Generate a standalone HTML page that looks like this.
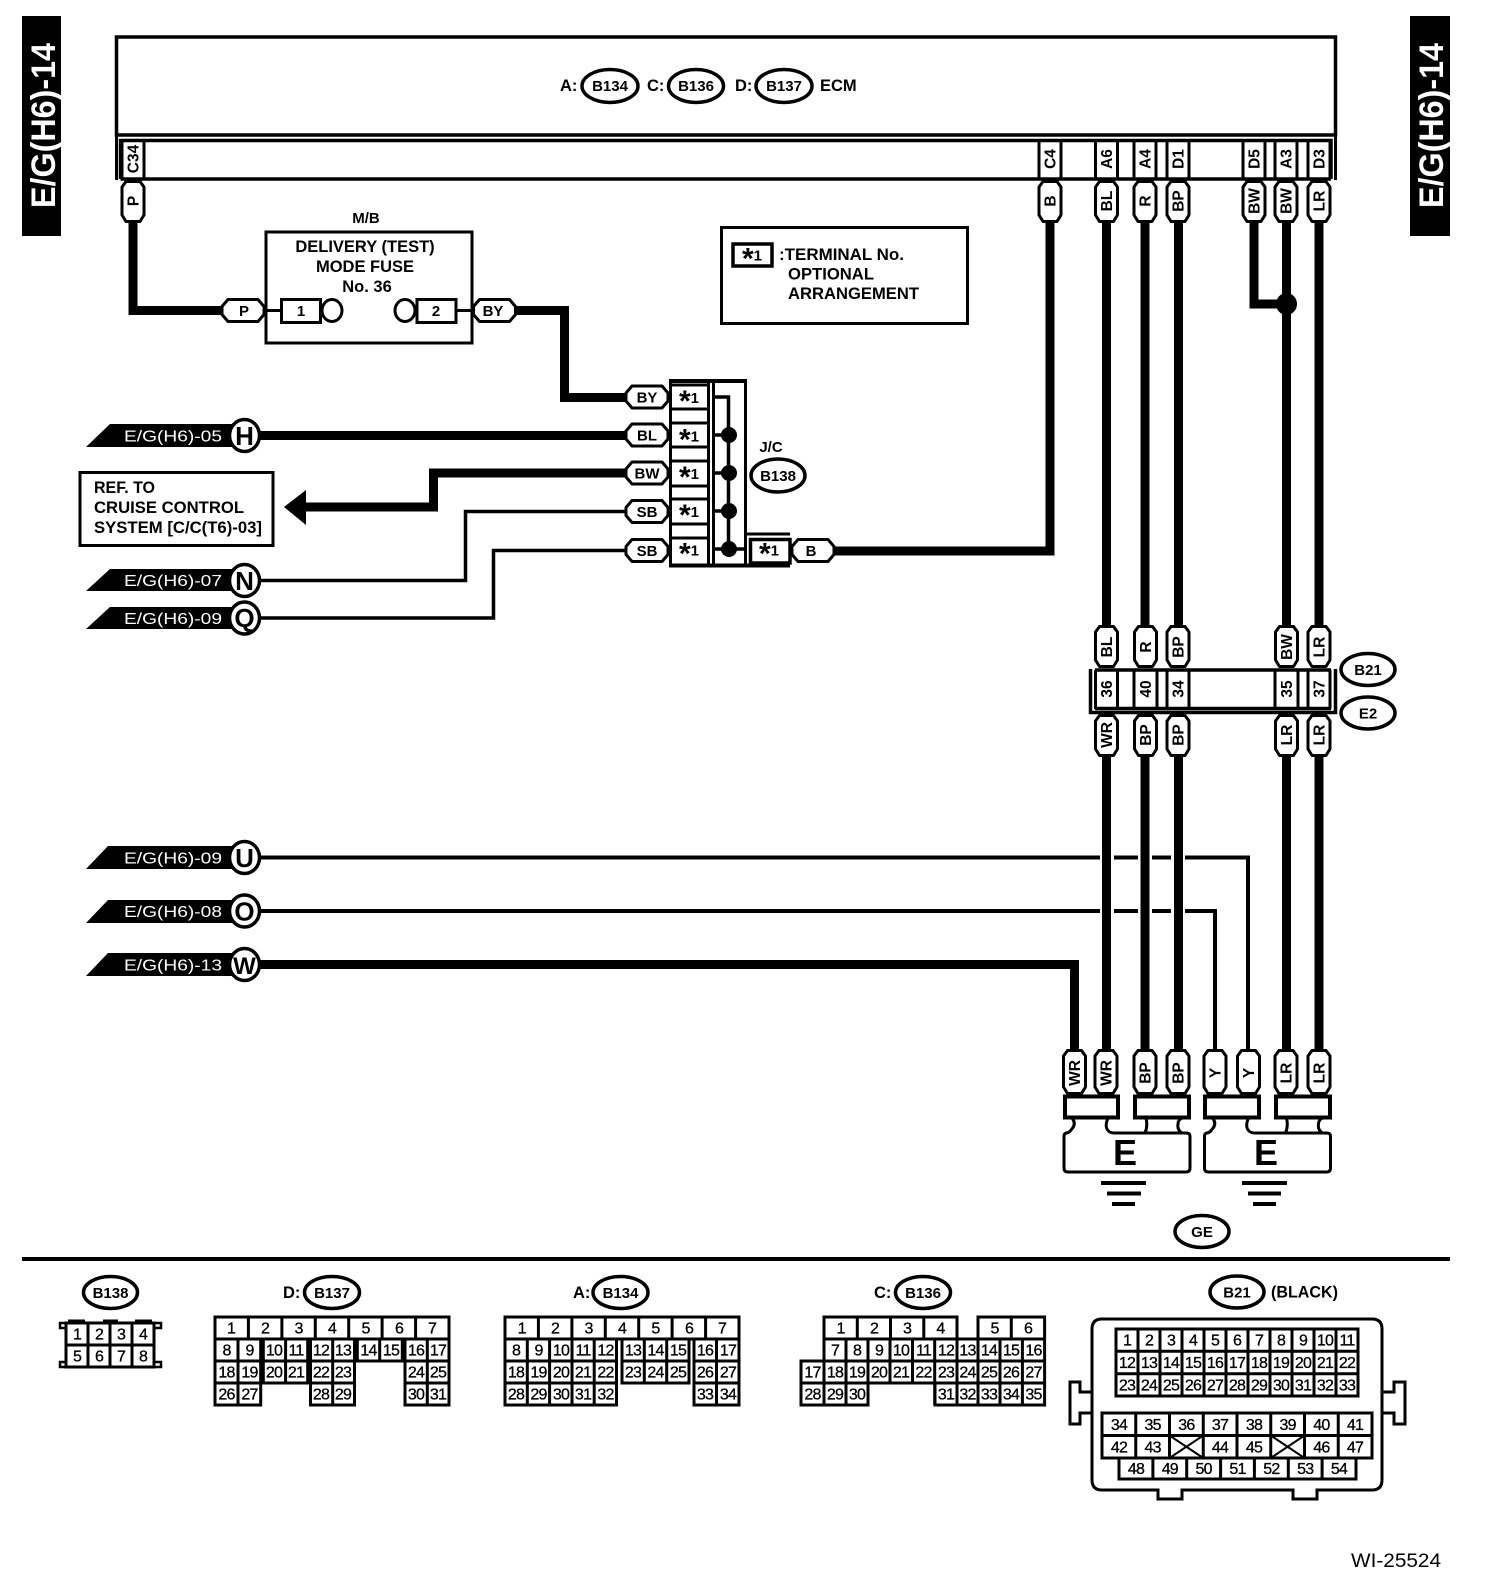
<!DOCTYPE html>
<html><head><meta charset="utf-8"><style>
html,body{margin:0;padding:0;background:#fff}
svg{display:block}
text{font-family:"Liberation Sans",sans-serif;fill:#000}
.b{font-weight:bold;font-size:16.5px}
.m{font-weight:bold;font-size:15px;text-anchor:middle}
.v{font-weight:bold;font-size:15.5px;text-anchor:middle}
.g text{font-size:16px;text-anchor:middle;letter-spacing:-.8px;stroke:#000;stroke-width:.3}
.w{fill:#fff;font-size:16px}
.l{font-weight:bold;font-size:26px;text-anchor:middle}
.s{fill:none;stroke:#000;stroke-width:3}
.e{fill:#fff;stroke:#000;stroke-width:3.5}
.t9{fill:none;stroke:#000;stroke-width:9}
.t3{fill:none;stroke:#000;stroke-width:3.5}
use{fill:#fff;stroke:#000;stroke-width:3;stroke-linejoin:round}
</style></head><body>
<svg width="1504" height="1596" viewBox="0 0 1504 1596" xmlns="http://www.w3.org/2000/svg">
<defs>
<polygon id="vp" points="-7,1.5 7,1.5 11,7 11,35 7,41.5 -7,41.5 -11,35 -11,7"/>
<polygon id="vq" points="-7,1.5 7,1.5 11,7 11,38 7,44.5 -7,44.5 -11,38 -11,7"/>
<polygon id="hp" points="-15,-11 15,-11 21,-4 21,4 15,11 -15,11 -21,4 -21,-4"/>
<g id="gnd"><path d="M1072 1118Q1077 1124 1071 1130Q1069 1133 1066 1133Q1064 1134 1064 1136V1168Q1064 1172 1068 1172H1186Q1190 1172 1190 1168V1136Q1190 1133 1186 1133H1182Q1177 1130 1178 1124Q1178 1120 1182 1118M1108 1118Q1105 1125 1107 1129Q1109 1133 1114 1133H1182M1146 1118Q1148 1126 1145 1133" fill="none" stroke="#000" stroke-width="3"/></g>
</defs>

<!-- side tabs -->
<rect x="22" y="16" width="39" height="220" fill="#000"/>
<rect x="1410" y="16" width="40" height="220" fill="#000"/>
<text transform="translate(55 208)rotate(-90)" textLength="165" lengthAdjust="spacingAndGlyphs" style="font-size:34px;font-weight:bold;fill:#fff">E/G(H6)-14</text>
<text transform="translate(1443 208)rotate(-90)" textLength="165" lengthAdjust="spacingAndGlyphs" style="font-size:34px;font-weight:bold;fill:#fff">E/G(H6)-14</text>

<!-- ECM -->
<rect x="116.5" y="37" width="1219" height="98" fill="none" stroke="#000" stroke-width="3.5"/>
<path class="s" d="M116.5 135V180M1335.5 135V180"/>
<path d="M120.5 179V140.5H1331V179M120.5 179H1331" fill="none" stroke="#000" stroke-width="3.5"/>
<path class="s" d="M122 140V179M144 140V179M1039 140V179M1061 140V179M1095.5 140V179M1117.5 140V179M1134 140V179M1156 140V179M1167 140V179M1189 140V179M1243 140V179M1265 140V179M1275 140V179M1297 140V179M1308 140V179M1330 140V179"/>
<ellipse class="e" cx="610" cy="86" rx="28" ry="16.5"/><ellipse class="e" cx="696" cy="86" rx="27.5" ry="16.5"/><ellipse class="e" cx="784" cy="86" rx="28" ry="16.5"/>
<text class="b" x="560" y="91">A:</text><text class="m" x="610" y="91">B134</text>
<text class="b" x="647" y="91">C:</text><text class="m" x="696" y="91">B136</text>
<text class="b" x="735" y="91">D:</text><text class="m" x="784" y="91">B137</text>
<text class="b" x="820" y="91">ECM</text>

<!-- thick wires -->
<path class="t9" d="M133 220V310.5H225M515 310.5H564.5V397.5H630M255 435.5H630M630 473H433.5V507H304M830 551H1050V220M1106.5 220V630M1145 220V630M1178.5 220V630M1254 220V304H1286M1286.5 220V630M1319 220V630M1106.5 752V1052M1145 752V1052M1178.5 752V1052M1286.5 752V1052M1319 752V1052M255 964.5H1074.5V1052"/>
<polygon points="284,507 306,490 306,525"/>
<ellipse cx="1286.5" cy="304" rx="10.5" ry="11"/>
<!-- thin wires -->
<path class="t3" d="M255 580.5H465.5V511.5H630M255 618H493.5V550.5H630"/>
<path fill="none" stroke="#000" stroke-width="4" d="M255 857.5H1100M1114 857.5H1138M1152 857.5H1171M1185 857.5H1248V1052M255 911H1100M1114 911H1138M1152 911H1171M1185 911H1215V1052"/>

<!-- top pills -->
<use href="#vp" x="133" y="180"/><use href="#vp" x="1050" y="180"/><use href="#vp" x="1106.5" y="180"/><use href="#vp" x="1145" y="180"/><use href="#vp" x="1178" y="180"/><use href="#vp" x="1254" y="180"/><use href="#vp" x="1286" y="180"/><use href="#vp" x="1319" y="180"/>
<text class="v" transform="translate(133 159)rotate(-90)" y="5.5">C34</text>
<text class="v" transform="translate(1050 159)rotate(-90)" y="5.5">C4</text>
<text class="v" transform="translate(1106.5 159)rotate(-90)" y="5.5">A6</text>
<text class="v" transform="translate(1145 159)rotate(-90)" y="5.5">A4</text>
<text class="v" transform="translate(1178 159)rotate(-90)" y="5.5">D1</text>
<text class="v" transform="translate(1254 159)rotate(-90)" y="5.5">D5</text>
<text class="v" transform="translate(1286 159)rotate(-90)" y="5.5">A3</text>
<text class="v" transform="translate(1319 159)rotate(-90)" y="5.5">D3</text>
<text class="v" transform="translate(133 201)rotate(-90)" y="5.5">P</text>
<text class="v" transform="translate(1050 201)rotate(-90)" y="5.5">B</text>
<text class="v" transform="translate(1106.5 201)rotate(-90)" y="5.5">BL</text>
<text class="v" transform="translate(1145 201)rotate(-90)" y="5.5">R</text>
<text class="v" transform="translate(1178 201)rotate(-90)" y="5.5">BP</text>
<text class="v" transform="translate(1254 201)rotate(-90)" y="5.5">BW</text>
<text class="v" transform="translate(1286 201)rotate(-90)" y="5.5">BW</text>
<text class="v" transform="translate(1319 201)rotate(-90)" y="5.5">LR</text>

<!-- M/B fuse -->
<text class="m" x="366" y="223">M/B</text>
<rect x="266" y="232" width="206" height="111" fill="none" stroke="#000" stroke-width="3"/>
<text class="b" text-anchor="middle" x="365" y="252">DELIVERY (TEST)</text>
<text class="b" text-anchor="middle" x="365" y="272">MODE FUSE</text>
<text class="b" text-anchor="middle" x="367" y="292">No. 36</text>
<path class="s" d="M265 310.5H281M457 310.5H472"/>
<rect x="281.5" y="299.5" width="39" height="23" class="e" style="stroke-width:3"/>
<rect x="417" y="299.5" width="39" height="23" class="e" style="stroke-width:3"/>
<ellipse cx="332" cy="310.5" rx="10" ry="11" class="e" style="stroke-width:3"/>
<ellipse cx="405" cy="310.5" rx="10" ry="11" class="e" style="stroke-width:3"/>
<text class="m" x="301" y="316">1</text><text class="m" x="436" y="316">2</text>
<use href="#hp" x="243" y="310.5"/><use href="#hp" x="494.5" y="310.5"/>
<text class="m" x="244" y="316">P</text><text class="m" x="493" y="316">BY</text>

<!-- legend -->
<rect x="721.5" y="227.5" width="246" height="96" fill="none" stroke="#000" stroke-width="3"/>
<rect x="733" y="244" width="39" height="22" fill="#fff" stroke="#000" stroke-width="3.5"/>
<text class="m" x="752" y="260.5"><tspan font-size="30" dy="8">*</tspan><tspan dy="-8">1</tspan></text>
<text class="b" x="779" y="260" textLength="125" lengthAdjust="spacingAndGlyphs">:TERMINAL No.</text>
<text class="b" x="788" y="279.5" textLength="86" lengthAdjust="spacingAndGlyphs">OPTIONAL</text>
<text class="b" x="788" y="299" textLength="131" lengthAdjust="spacingAndGlyphs">ARRANGEMENT</text>

<!-- joint connector -->
<path class="s" d="M670.5 381V565M708.5 381V565M670 385H709M670 409H709M670 423H709M670 447H709M670 461H709M670 486H709M670 499H709M670 524H709M670 538H709"/>
<path class="s" d="M713.5 381V565M745.5 381V565"/>
<path fill="none" stroke="#000" stroke-width="4" d="M669 381H747M669 565.5H790"/>
<path class="s" d="M746 534H790"/>
<rect x="750.5" y="539.5" width="39.5" height="23.5" fill="#fff" stroke="#000" stroke-width="3.5"/>
<path class="t3" d="M715 397H728.5V549M715 435H729M715 473H729M715 511H729M715 549H747"/>
<circle cx="729" cy="435" r="8"/><circle cx="729" cy="473" r="8"/><circle cx="729" cy="511" r="8"/><circle cx="729" cy="549" r="8"/>
<use href="#hp" x="647" y="397"/><use href="#hp" x="647" y="435"/><use href="#hp" x="647" y="473"/><use href="#hp" x="647" y="511.5"/><use href="#hp" x="647" y="550.5"/><use href="#hp" x="813" y="550.5"/>
<text class="m" x="647" y="402.5">BY</text><text class="m" x="647" y="440.5">BL</text><text class="m" x="647" y="478.5">BW</text><text class="m" x="647" y="517">SB</text><text class="m" x="647" y="556">SB</text><text class="m" x="811" y="556">B</text>
<text class="m" x="689" y="403"><tspan font-size="30" dy="8">*</tspan><tspan dy="-8">1</tspan></text>
<text class="m" x="689" y="441.5"><tspan font-size="30" dy="8">*</tspan><tspan dy="-8">1</tspan></text>
<text class="m" x="689" y="479"><tspan font-size="30" dy="8">*</tspan><tspan dy="-8">1</tspan></text>
<text class="m" x="689" y="517"><tspan font-size="30" dy="8">*</tspan><tspan dy="-8">1</tspan></text>
<text class="m" x="689" y="555.5"><tspan font-size="30" dy="8">*</tspan><tspan dy="-8">1</tspan></text>
<text class="m" x="769" y="555.5"><tspan font-size="30" dy="8">*</tspan><tspan dy="-8">1</tspan></text>
<text class="m" x="771" y="452">J/C</text>
<ellipse class="e" cx="778" cy="475.5" rx="27" ry="16.5"/><text class="m" x="778" y="481">B138</text>

<!-- REF box -->
<rect x="80" y="472.5" width="193" height="73" fill="none" stroke="#000" stroke-width="3"/>
<text class="b" x="94" y="493" textLength="61" lengthAdjust="spacingAndGlyphs">REF. TO</text>
<text class="b" x="94" y="513" textLength="150" lengthAdjust="spacingAndGlyphs">CRUISE CONTROL</text>
<text class="b" x="94" y="533" textLength="168" lengthAdjust="spacingAndGlyphs">SYSTEM [C/C(T6)-03]</text>

<!-- off-page tags -->
<path d="M86 447L110 424H235V447ZM86 591L110 569H235V591ZM86 629L110 607H235V629ZM86 869L108 846H235V869ZM86 923L108 900H235V923ZM86 976L108 953H235V976Z"/>
<text class="w" x="124" y="441.5" textLength="98" lengthAdjust="spacingAndGlyphs">E/G(H6)-05</text>
<text class="w" x="124" y="586" textLength="98" lengthAdjust="spacingAndGlyphs">E/G(H6)-07</text>
<text class="w" x="124" y="624" textLength="98" lengthAdjust="spacingAndGlyphs">E/G(H6)-09</text>
<text class="w" x="124" y="863.5" textLength="98" lengthAdjust="spacingAndGlyphs">E/G(H6)-09</text>
<text class="w" x="124" y="917" textLength="98" lengthAdjust="spacingAndGlyphs">E/G(H6)-08</text>
<text class="w" x="124" y="970.5" textLength="98" lengthAdjust="spacingAndGlyphs">E/G(H6)-13</text>
<ellipse class="e" cx="244.5" cy="435.5" rx="15" ry="16"/><ellipse class="e" cx="244.5" cy="580.5" rx="15" ry="16"/><ellipse class="e" cx="244.5" cy="618" rx="15" ry="16"/><ellipse class="e" cx="244.5" cy="857.5" rx="15" ry="16"/><ellipse class="e" cx="244.5" cy="911" rx="15" ry="16"/><ellipse class="e" cx="244.5" cy="964.5" rx="15" ry="16"/>
<text class="l" x="244.5" y="445">H</text><text class="l" x="244.5" y="590">N</text><text class="l" x="244.5" y="627">Q</text><text class="l" x="244.5" y="867">U</text><text class="l" x="244.5" y="920.5">O</text><text class="l" x="244.5" y="974" style="font-size:24px">W</text>

<!-- B21/E2 connector -->
<path class="t3" d="M1090.5 669V712.5H1335.5V669"/>
<path fill="none" stroke="#000" stroke-width="3.5" d="M1095 670H1331M1095 708.5H1331"/>
<path class="s" d="M1095.5 670V709M1117.5 670V709M1134 670V709M1157 670V709M1167 670V709M1189 670V709M1275 670V709M1298 670V709M1308 670V709M1330 670V709"/>
<use href="#vp" x="1106.5" y="625"/><use href="#vp" x="1145.5" y="625"/><use href="#vp" x="1178" y="625"/><use href="#vp" x="1286.5" y="625"/><use href="#vp" x="1319" y="625"/>
<use href="#vp" x="1106.5" y="714"/><use href="#vp" x="1145.5" y="714"/><use href="#vp" x="1178" y="714"/><use href="#vp" x="1286.5" y="714"/><use href="#vp" x="1319" y="714"/>
<text class="v" transform="translate(1106.5 647)rotate(-90)" y="5.5">BL</text><text class="v" transform="translate(1145.5 647)rotate(-90)" y="5.5">R</text><text class="v" transform="translate(1178 647)rotate(-90)" y="5.5">BP</text><text class="v" transform="translate(1286.5 647)rotate(-90)" y="5.5">BW</text><text class="v" transform="translate(1319 647)rotate(-90)" y="5.5">LR</text>
<text class="v" transform="translate(1106.5 689)rotate(-90)" y="5.5">36</text><text class="v" transform="translate(1145.5 689)rotate(-90)" y="5.5">40</text><text class="v" transform="translate(1178 689)rotate(-90)" y="5.5">34</text><text class="v" transform="translate(1286.5 689)rotate(-90)" y="5.5">35</text><text class="v" transform="translate(1319 689)rotate(-90)" y="5.5">37</text>
<text class="v" transform="translate(1106.5 735)rotate(-90)" y="5.5">WR</text><text class="v" transform="translate(1145.5 735)rotate(-90)" y="5.5">BP</text><text class="v" transform="translate(1178 735)rotate(-90)" y="5.5">BP</text><text class="v" transform="translate(1286.5 735)rotate(-90)" y="5.5">LR</text><text class="v" transform="translate(1319 735)rotate(-90)" y="5.5">LR</text>
<ellipse class="e" cx="1368" cy="669.5" rx="27" ry="16"/><text class="m" x="1368" y="675">B21</text>
<ellipse class="e" cx="1368" cy="713" rx="27" ry="16"/><text class="m" x="1368" y="718.5">E2</text>

<!-- ground -->
<use href="#gnd" style="fill:none"/><use href="#gnd" x="140.5" style="fill:none"/>
<rect x="1065" y="1096.5" width="53" height="21" fill="#fff" stroke="#000" stroke-width="4"/><rect x="1135" y="1096.5" width="54" height="21" fill="#fff" stroke="#000" stroke-width="4"/><rect x="1205" y="1096.5" width="54" height="21" fill="#fff" stroke="#000" stroke-width="4"/><rect x="1276" y="1096.5" width="54" height="21" fill="#fff" stroke="#000" stroke-width="4"/>
<use href="#vq" x="1074.5" y="1049"/><use href="#vq" x="1106" y="1049"/><use href="#vq" x="1145" y="1049"/><use href="#vq" x="1178" y="1049"/><use href="#vq" x="1215" y="1049"/><use href="#vq" x="1248.5" y="1049"/><use href="#vq" x="1286" y="1049"/><use href="#vq" x="1319" y="1049"/>
<text class="v" transform="translate(1074.5 1073)rotate(-90)" y="5.5">WR</text><text class="v" transform="translate(1106 1073)rotate(-90)" y="5.5">WR</text><text class="v" transform="translate(1145 1073)rotate(-90)" y="5.5">BP</text><text class="v" transform="translate(1178 1073)rotate(-90)" y="5.5">BP</text><text class="v" transform="translate(1215 1073)rotate(-90)" y="5.5">Y</text><text class="v" transform="translate(1248.5 1073)rotate(-90)" y="5.5">Y</text><text class="v" transform="translate(1286 1073)rotate(-90)" y="5.5">LR</text><text class="v" transform="translate(1319 1073)rotate(-90)" y="5.5">LR</text>
<text x="1125" y="1165" text-anchor="middle" style="font-size:36px;font-weight:bold">E</text>
<text x="1266" y="1165" text-anchor="middle" style="font-size:36px;font-weight:bold">E</text>
<path fill="none" stroke="#000" stroke-width="4" d="M1101 1183H1146M1107 1193.5H1141M1112 1204H1135M1242 1183H1287M1248 1193.5H1281M1253 1204H1276"/>
<ellipse class="e" cx="1202" cy="1231.5" rx="27" ry="16"/><text class="m" x="1202" y="1237">GE</text>
<path fill="none" stroke="#000" stroke-width="4" d="M22 1259H1450"/>

<!-- connector labels -->
<ellipse class="e" cx="110.5" cy="1292.5" rx="27" ry="16"/><text class="m" x="110.5" y="1298">B138</text>
<text class="b" x="283" y="1298">D:</text><ellipse class="e" cx="332" cy="1292.5" rx="27.5" ry="16"/><text class="m" x="332" y="1298">B137</text>
<text class="b" x="573" y="1298">A:</text><ellipse class="e" cx="620.5" cy="1292.5" rx="27.5" ry="16"/><text class="m" x="620.5" y="1298">B134</text>
<text class="b" x="874" y="1298">C:</text><ellipse class="e" cx="923" cy="1292.5" rx="27.5" ry="16"/><text class="m" x="923" y="1298">B136</text>
<ellipse class="e" cx="1237" cy="1292" rx="27" ry="16"/><text class="m" x="1237" y="1297.5">B21</text>
<text class="b" x="1271" y="1297.5" textLength="67" lengthAdjust="spacingAndGlyphs">(BLACK)</text>

<!-- B138 connector -->
<path fill="#fff" stroke="#000" stroke-width="2.5" d="M60 1323H66V1328H60ZM60 1362H66V1367H60ZM154 1323H161V1328H154ZM154 1362H161V1367H154Z"/>
<path fill="none" stroke="#000" stroke-width="3" d="M66 1323H154V1367H66ZM88 1323V1367M110 1323V1367M132 1323V1367M66 1345H154"/>
<path fill="none" stroke="#000" stroke-width="3" d="M68 1321H85M103 1321H118M135 1321H152"/>
<g class="g"><text x="77" y="1339.5">1</text><text x="99" y="1339.5">2</text><text x="121" y="1339.5">3</text><text x="143" y="1339.5">4</text><text x="77" y="1361.5">5</text><text x="99" y="1361.5">6</text><text x="121" y="1361.5">7</text><text x="143" y="1361.5">8</text>

<!-- D grid text -->
<text x="231" y="1333.5">1</text><text x="265" y="1333.5">2</text><text x="298.5" y="1333.5">3</text><text x="332" y="1333.5">4</text><text x="365.5" y="1333.5">5</text><text x="399" y="1333.5">6</text><text x="432" y="1333.5">7</text>
<text x="226.5" y="1355.5">8</text><text x="249.5" y="1355.5">9</text><text x="274" y="1355.5">10</text><text x="296" y="1355.5">11</text><text x="321" y="1355.5">12</text><text x="343" y="1355.5">13</text><text x="368.5" y="1355.5">14</text><text x="391" y="1355.5">15</text><text x="416" y="1355.5">16</text><text x="438" y="1355.5">17</text>
<text x="226.5" y="1377.5">18</text><text x="249.5" y="1377.5">19</text><text x="274" y="1377.5">20</text><text x="296" y="1377.5">21</text><text x="321" y="1377.5">22</text><text x="343" y="1377.5">23</text><text x="416" y="1377.5">24</text><text x="438" y="1377.5">25</text>
<text x="226.5" y="1399.5">26</text><text x="249.5" y="1399.5">27</text><text x="321" y="1399.5">28</text><text x="343" y="1399.5">29</text><text x="416" y="1399.5">30</text><text x="438" y="1399.5">31</text>

<!-- A grid text -->
<text x="521.7" y="1333.5">1</text><text x="555" y="1333.5">2</text><text x="588.6" y="1333.5">3</text><text x="622" y="1333.5">4</text><text x="655.4" y="1333.5">5</text><text x="689" y="1333.5">6</text><text x="722" y="1333.5">7</text>
<text x="516" y="1355.5">8</text><text x="538.5" y="1355.5">9</text><text x="561" y="1355.5">10</text><text x="583" y="1355.5">11</text><text x="605.5" y="1355.5">12</text><text x="633" y="1355.5">13</text><text x="655.5" y="1355.5">14</text><text x="678" y="1355.5">15</text><text x="705" y="1355.5">16</text><text x="728" y="1355.5">17</text>
<text x="516" y="1377.5">18</text><text x="538.5" y="1377.5">19</text><text x="561" y="1377.5">20</text><text x="583" y="1377.5">21</text><text x="605.5" y="1377.5">22</text><text x="633" y="1377.5">23</text><text x="655.5" y="1377.5">24</text><text x="678" y="1377.5">25</text><text x="705" y="1377.5">26</text><text x="728" y="1377.5">27</text>
<text x="516" y="1399.5">28</text><text x="538.5" y="1399.5">29</text><text x="561" y="1399.5">30</text><text x="583" y="1399.5">31</text><text x="605.5" y="1399.5">32</text><text x="705" y="1399.5">33</text><text x="728" y="1399.5">34</text>

<!-- C grid text -->
<text x="840.6" y="1333.5">1</text><text x="874" y="1333.5">2</text><text x="907" y="1333.5">3</text><text x="940.4" y="1333.5">4</text><text x="994.6" y="1333.5">5</text><text x="1028" y="1333.5">6</text>
<text x="835" y="1355.5">7</text><text x="857" y="1355.5">8</text><text x="879" y="1355.5">9</text><text x="901" y="1355.5">10</text><text x="923.5" y="1355.5">11</text><text x="946" y="1355.5">12</text><text x="967.5" y="1355.5">13</text><text x="989" y="1355.5">14</text><text x="1011" y="1355.5">15</text><text x="1033.5" y="1355.5">16</text>
<text x="812.5" y="1377.5">17</text><text x="835" y="1377.5">18</text><text x="857" y="1377.5">19</text><text x="879" y="1377.5">20</text><text x="901" y="1377.5">21</text><text x="923.5" y="1377.5">22</text><text x="946" y="1377.5">23</text><text x="967.5" y="1377.5">24</text><text x="989" y="1377.5">25</text><text x="1011" y="1377.5">26</text><text x="1033.5" y="1377.5">27</text>
<text x="812.5" y="1399.5">28</text><text x="835" y="1399.5">29</text><text x="857" y="1399.5">30</text><text x="946" y="1399.5">31</text><text x="967.5" y="1399.5">32</text><text x="989" y="1399.5">33</text><text x="1011" y="1399.5">34</text><text x="1033.5" y="1399.5">35</text>

<!-- B21 text -->
<text x="1127" y="1345.5">1</text><text x="1149" y="1345.5">2</text><text x="1171" y="1345.5">3</text><text x="1193" y="1345.5">4</text><text x="1215" y="1345.5">5</text><text x="1237" y="1345.5">6</text><text x="1259" y="1345.5">7</text><text x="1281" y="1345.5">8</text><text x="1303" y="1345.5">9</text><text x="1325" y="1345.5">10</text><text x="1347" y="1345.5">11</text>
<text x="1127" y="1368">12</text><text x="1149" y="1368">13</text><text x="1171" y="1368">14</text><text x="1193" y="1368">15</text><text x="1215" y="1368">16</text><text x="1237" y="1368">17</text><text x="1259" y="1368">18</text><text x="1281" y="1368">19</text><text x="1303" y="1368">20</text><text x="1325" y="1368">21</text><text x="1347" y="1368">22</text>
<text x="1127" y="1390.5">23</text><text x="1149" y="1390.5">24</text><text x="1171" y="1390.5">25</text><text x="1193" y="1390.5">26</text><text x="1215" y="1390.5">27</text><text x="1237" y="1390.5">28</text><text x="1259" y="1390.5">29</text><text x="1281" y="1390.5">30</text><text x="1303" y="1390.5">31</text><text x="1325" y="1390.5">32</text><text x="1347" y="1390.5">33</text>
<text x="1119" y="1430">34</text><text x="1152.6" y="1430">35</text><text x="1186.4" y="1430">36</text><text x="1220" y="1430">37</text><text x="1254" y="1430">38</text><text x="1287.6" y="1430">39</text><text x="1321.4" y="1430">40</text><text x="1355" y="1430">41</text>
<text x="1119" y="1452.5">42</text><text x="1152.6" y="1452.5">43</text><text x="1220" y="1452.5">44</text><text x="1254" y="1452.5">45</text><text x="1321.4" y="1452.5">46</text><text x="1355" y="1452.5">47</text>
<text x="1136" y="1474">48</text><text x="1169.8" y="1474">49</text><text x="1203.6" y="1474">50</text><text x="1237.5" y="1474">51</text><text x="1271.4" y="1474">52</text><text x="1305.2" y="1474">53</text><text x="1339" y="1474">54</text>
</g>

<!-- D grid -->
<path fill="none" stroke="#000" stroke-width="3" d="M215 1317H449V1339H215ZM248.4 1317V1339M281.9 1317V1339M315.3 1317V1339M348.7 1317V1339M382.1 1317V1339M415.6 1317V1339
M215 1339H260.7V1405H215ZM238 1339V1405M215 1361H260.7M215 1383H260.7
M263.3 1339H307.7V1383H263.3ZM285.6 1339V1383M263.3 1361H307.7
M310.5 1339H354.5V1405H310.5ZM332.7 1339V1405M310.5 1361H354.5M310.5 1383H354.5
M357.3 1339H402.3V1361H357.3ZM379.7 1339V1361
M405 1339H449V1405H405ZM427.3 1339V1405M405 1361H449M405 1383H449"/>
<!-- A grid -->
<path fill="none" stroke="#000" stroke-width="3" d="M505 1317H739V1339H505ZM538.4 1317V1339M571.9 1317V1339M605.3 1317V1339M638.7 1317V1339M672.1 1317V1339M705.6 1317V1339
M505 1339H616.5V1405H505ZM527.3 1339V1405M549.6 1339V1405M572 1339V1405M594.2 1339V1405M505 1361H616.5M505 1383H616.5
M622 1339H689V1383H622ZM644.3 1339V1383M666.7 1339V1383M622 1361H689
M694 1339H739V1405H694ZM716.5 1339V1405M694 1361H739M694 1383H739"/>
<!-- C grid -->
<path fill="none" stroke="#000" stroke-width="3" d="M824 1339V1317H957V1339M857.3 1317V1339M890.5 1317V1339M923.8 1317V1339
M978 1339V1317H1044.6V1339M1011.3 1317V1339
M824 1339H1044.6V1361H824ZM846 1339V1383M868 1339V1383M890 1339V1383M912.5 1339V1383M934.7 1339V1405M957 1339V1405M978 1339V1405M1000 1339V1405M1022.4 1339V1405
M801 1361H1044.6V1405H935V1383H801ZM801 1383V1405H868V1383M824 1361V1405M846 1383V1405M935 1383H1044.6"/>
<!-- B21 housing -->
<path fill="none" stroke="#000" stroke-width="3" d="M1102 1319H1372Q1382 1319 1382 1329V1480Q1382 1490 1372 1490H1317V1499H1293V1490H1182V1499H1158V1490H1102Q1092 1490 1092 1480V1329Q1092 1319 1102 1319ZM1092 1392H1080V1382H1070V1424H1080V1413H1092M1382 1392H1394V1382H1405V1424H1394V1413H1382"/>
<path fill="none" stroke="#000" stroke-width="3" d="M1116 1329H1358V1396H1116ZM1116 1351.3H1358M1116 1373.7H1358M1138 1329V1396M1160 1329V1396M1182 1329V1396M1204 1329V1396M1226 1329V1396M1248 1329V1396M1270 1329V1396M1292 1329V1396M1314 1329V1396M1336 1329V1396
M1102 1413H1372V1458H1102ZM1102 1435.5H1372M1135.75 1413V1458M1169.5 1413V1458M1203.25 1413V1458M1237 1413V1458M1270.75 1413V1458M1304.5 1413V1458M1338.25 1413V1458
M1119 1458H1356V1479H1119ZM1152.9 1458V1479M1186.7 1458V1479M1220.6 1458V1479M1254.4 1458V1479M1288.3 1458V1479M1322.1 1458V1479"/>
<path fill="none" stroke="#000" stroke-width="2" d="M1169.5 1435.5L1203.25 1458M1203.25 1435.5L1169.5 1458M1270.75 1435.5L1304.5 1458M1304.5 1435.5L1270.75 1458"/>

<text x="1351" y="1567" textLength="90" lengthAdjust="spacingAndGlyphs" style="font-size:19px">WI-25524</text>
</svg>
</body></html>
